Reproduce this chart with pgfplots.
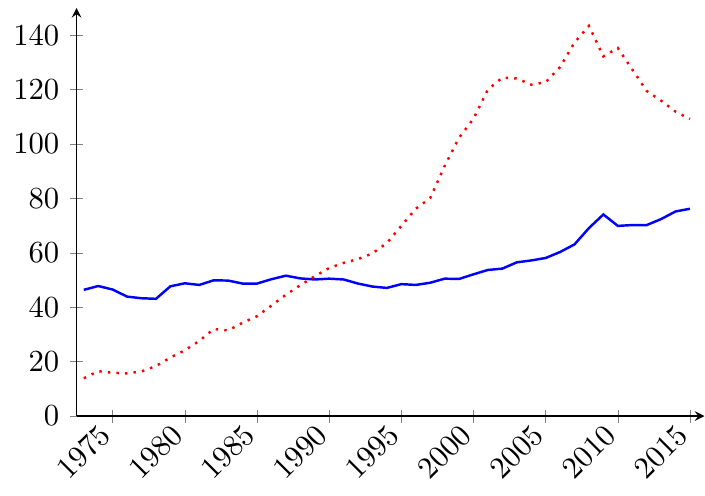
\documentclass[border=0pt]{standalone}
\usepackage{pgfplots}
\pgfplotsset{compat=1.18}
\begin{document}
\begin{tikzpicture}
\begin{axis}[
    scale only axis,
    width=204.9pt, height=133.2pt,
    axis lines=left,
    xmin=1972.5, xmax=2016, ymin=0, ymax=150,
    xtick={1975,1980,1985,1990,1995,2000,2005,2010,2015},
    ytick={0,20,40,60,80,100,120,140},
    x tick label style={/pgf/number format/1000 sep={}, rotate=45, anchor=east},
  ]
\addplot[blue, thick, no marks] coordinates {
  (1973,46.4) (1974,47.8) (1975,46.5) (1976,43.9) (1977,43.3) (1978,43.1)
  (1979,47.7) (1980,48.8) (1981,48.2) (1982,49.9) (1983,49.8) (1984,48.7)
  (1985,48.7) (1986,50.3) (1987,51.6) (1988,50.6) (1989,50.2) (1990,50.5)
  (1991,50.2) (1992,48.7) (1993,47.6) (1994,47.1) (1995,48.5) (1996,48.2)
  (1997,49.0) (1998,50.5) (1999,50.4) (2000,52.1) (2001,53.7) (2002,54.2)
  (2003,56.5) (2004,57.2) (2005,58.1) (2006,60.3) (2007,63.1) (2008,69.1)
  (2009,74.1) (2010,69.9) (2011,70.2) (2012,70.2) (2013,72.4) (2014,75.2)
  (2015,76.2)};
\addplot[red, thick, dotted, no marks] coordinates {
  (1973,13.9) (1974,16.5) (1975,15.9) (1976,15.7) (1977,16.4) (1978,18.4)
  (1979,21.5) (1980,24.2) (1981,27.6) (1982,32.0) (1983,31.5) (1984,34.3)
  (1985,36.7) (1986,40.6) (1987,44.6) (1988,48.1) (1989,51.4) (1990,54.4)
  (1991,56.3) (1992,57.7) (1993,59.8) (1994,63.6) (1995,69.9) (1996,76.2)
  (1997,80.1) (1998,91.9) (1999,102.3) (2000,109.3) (2001,120.0) (2002,124.4)
  (2003,124.1) (2004,121.8) (2005,122.7) (2006,128.3) (2007,137.3) (2008,143.4)
  (2009,132.2) (2010,135.3) (2011,127.4) (2012,119.5) (2013,115.9) (2014,111.9)
  (2015,109.2)};
\end{axis}
% a little white room above the y arrow and left of the labels, as in the reference
\path ([yshift=2.6pt]current axis.north) ([xshift=-1pt]current axis.outer west);
\end{tikzpicture}
\end{document}
